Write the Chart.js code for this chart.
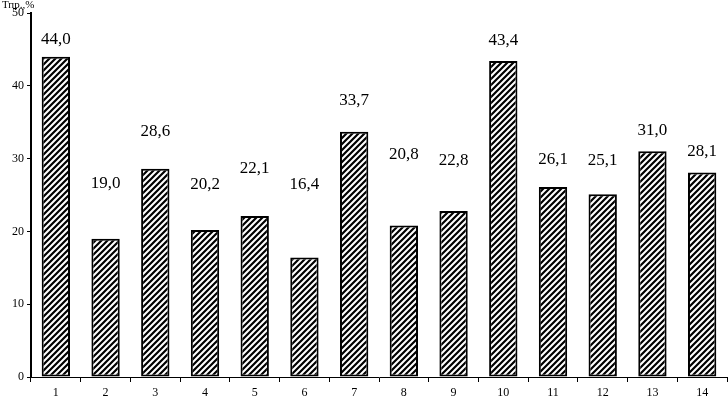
<!DOCTYPE html>
<html>
<head>
<meta charset="utf-8">
<script src="https://cdn.jsdelivr.net/npm/chart.js@4"></script>
<style>
  html, body { margin: 0; padding: 0; background: #fff; }
  #wrap { width: 728px; height: 399px; position: relative; }
</style>
</head>
<body>
<div id="wrap"><canvas id="chart"></canvas></div>
<script>
// categories and values
const categories = ['1','2','3','4','5','6','7','8','9','10','11','12','13','14'];
const values = [44.0, 19.0, 28.6, 20.2, 22.1, 16.4, 33.7, 20.8, 22.8, 43.4, 26.1, 25.1, 31.0, 28.1];
// height (in axis units) where each value label sits
const labelAt = [46.3, 26.6, 33.7, 26.5, 28.6, 26.4, 38.0, 30.5, 29.7, 46.2, 29.9, 29.8, 33.9, 31.0];
const yTicks = [0, 10, 20, 30, 40, 50];
const yTitle = 'Тпр.,%';

// diagonal hatch fill
function makeHatch() {
    const c = document.createElement('canvas');
    c.width = 6; c.height = 6;
    const g = c.getContext('2d');
    g.fillStyle = '#fff';
    g.fillRect(0, 0, 6, 6);
    g.strokeStyle = '#000';
    g.lineWidth = 2.2;
    g.beginPath();
    g.moveTo(-1, 7); g.lineTo(7, -1);
    g.moveTo(-4, 4); g.lineTo(4, -4);
    g.moveTo(2, 10); g.lineTo(10, 2);
    g.stroke();
    return g.createPattern(c, 'repeat');
}

const valueLabels = {
    id: 'valueLabels',
    afterDatasetsDraw(chart) {
        const ctx = chart.ctx;
        const meta = chart.getDatasetMeta(0);
        const y = chart.scales.y;
        ctx.save();
        ctx.fillStyle = '#000';
        ctx.font = '17px "Liberation Serif", serif';
        ctx.textAlign = 'center';
        ctx.textBaseline = 'middle';
        meta.data.forEach((bar, i) => {
            ctx.fillText(values[i].toFixed(1).replace('.', ','), bar.x, y.getPixelForValue(labelAt[i]));
        });
        // axis title in the corner
        ctx.font = '11px "Liberation Serif", serif';
        ctx.textAlign = 'left';
        ctx.textBaseline = 'top';
        ctx.fillText(yTitle, 2, 0);
        ctx.restore();
    }
};

const chart = new Chart(document.getElementById('chart'), {
    type: 'bar',
    data: {
        labels: categories,
        datasets: [{
            data: values,
            backgroundColor: makeHatch(),
            borderColor: '#000',
            borderWidth: 2,
            borderSkipped: false,
            categoryPercentage: 1,
            barPercentage: 0.57
        }]
    },
    options: {
        responsive: true,
        maintainAspectRatio: false,
        animation: false,
        events: [],
        layout: { padding: { top: 13, right: 1, left: 0, bottom: 0 } },
        plugins: { legend: { display: false }, tooltip: { enabled: false } },
        scales: {
            x: {
                offset: true,
                grid: { offset: true, drawOnChartArea: false, color: '#000', tickLength: 5, tickWidth: 1 },
                border: { color: '#000', width: 1 },
                ticks: { color: '#000', font: { family: '"Liberation Serif", serif', size: 12 }, padding: 4, maxRotation: 0 },
                afterFit(s) { s.height = 22; }
            },
            y: {
                min: 0, max: 50,
                afterBuildTicks(s) { s.ticks = yTicks.map(v => ({ value: v })); },
                grid: { drawOnChartArea: false, color: '#000', tickLength: 4, tickWidth: 1 },
                border: { color: '#000', width: 2 },
                ticks: { color: '#000', font: { family: '"Liberation Serif", serif', size: 12 }, padding: 3 },
                afterFit(s) { s.width = 31; }
            }
        }
    },
    plugins: [valueLabels]
});
</script>
</body>
</html>
